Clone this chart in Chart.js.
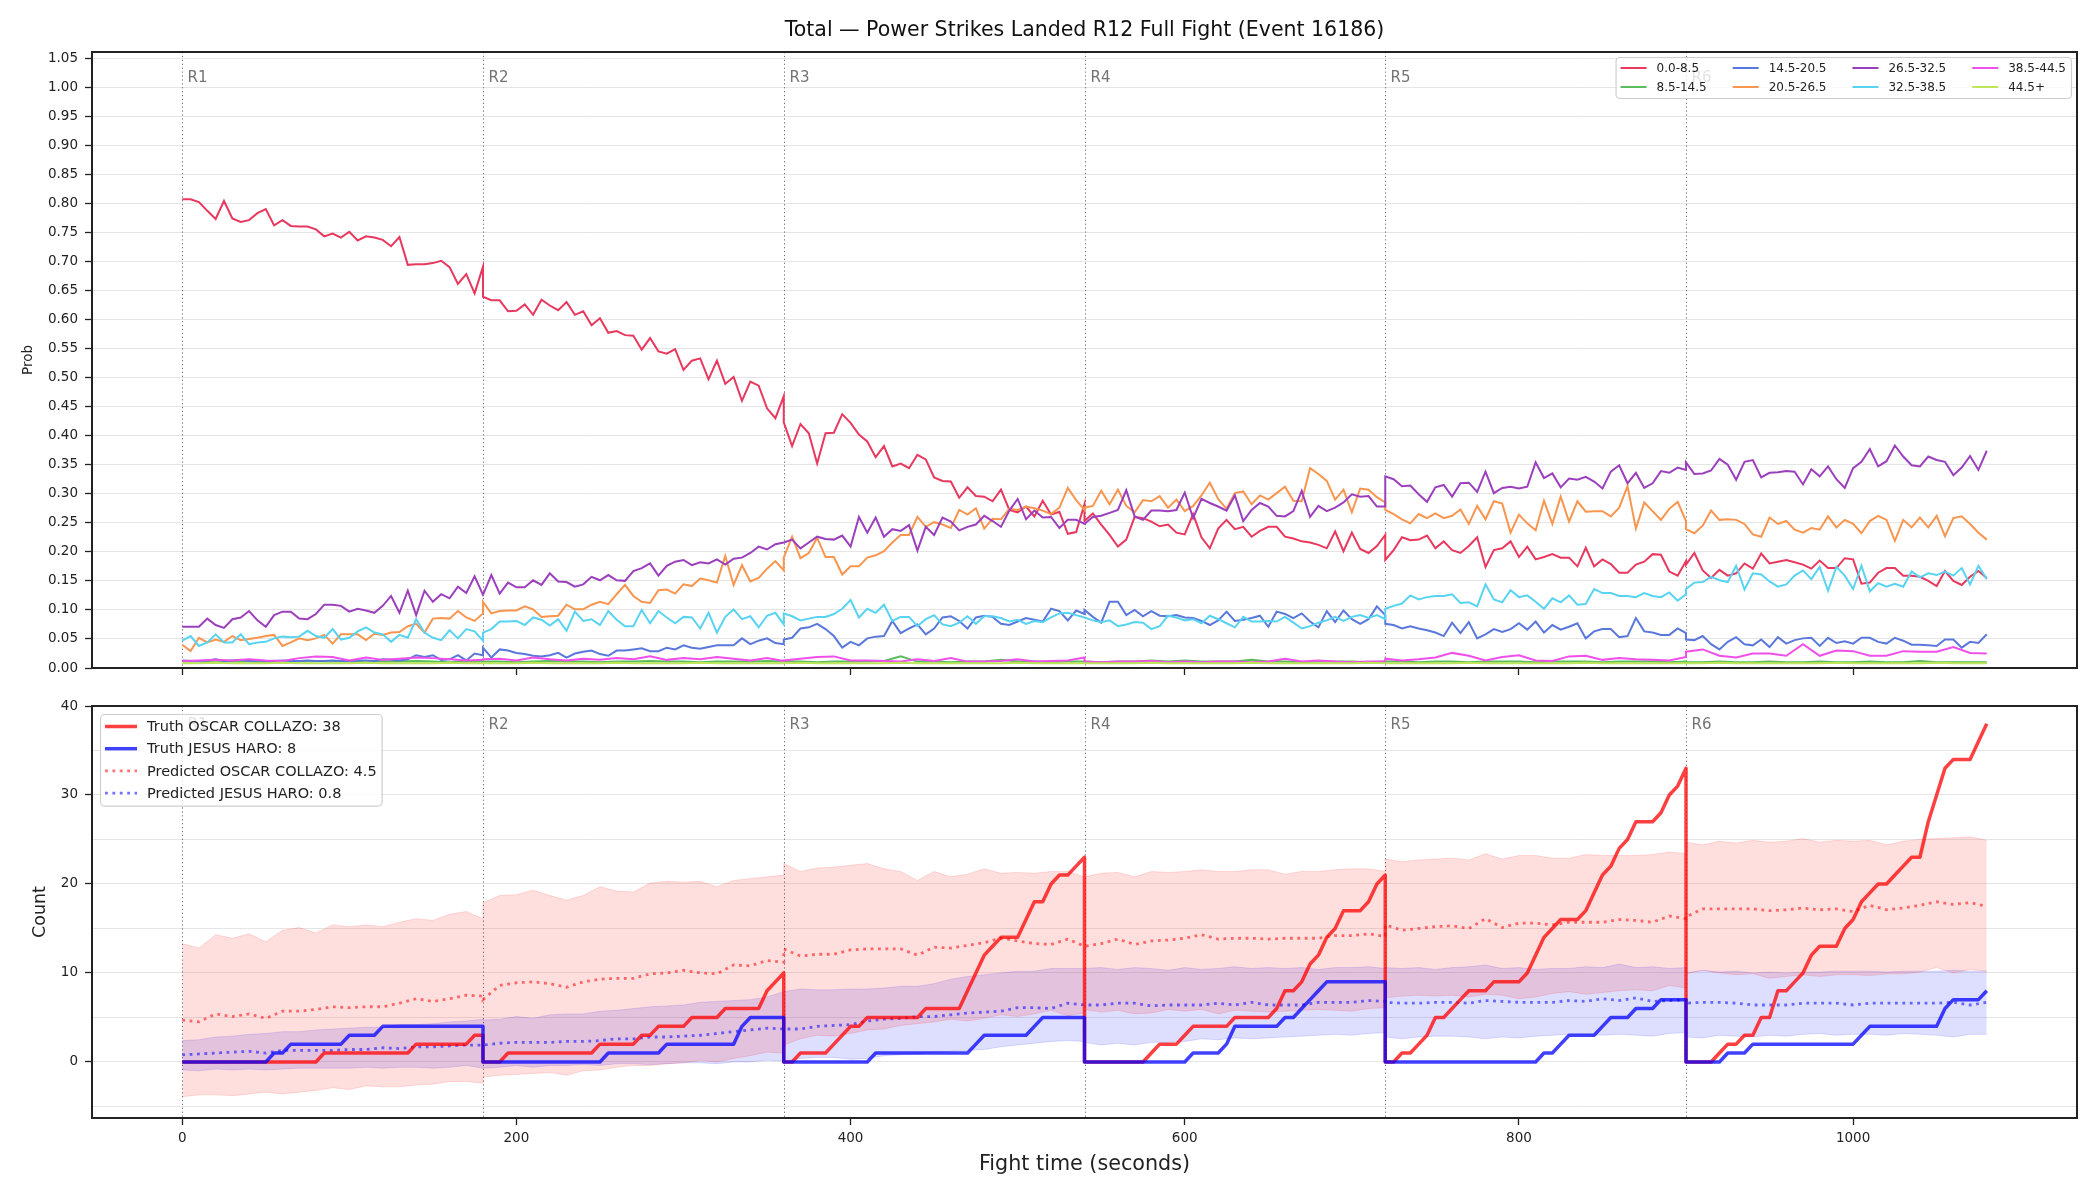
<!DOCTYPE html>
<html>
<head>
<meta charset="utf-8">
<script src="https://cdn.jsdelivr.net/npm/chart.js@4.4.0/dist/chart.umd.min.js"></script>
<style>
  html, body { margin: 0; padding: 0; background: #fff; }
  #wrap { position: relative; width: 2100px; height: 1200px; background: #fff; }
  #probChart { position: absolute; left: 0; top: 0; }
  #countChart { position: absolute; left: 0; top: 690px; }
</style>
</head>
<body>
<div id="wrap">
  <canvas id="probChart" width="2100" height="690"></canvas>
  <canvas id="countChart" width="2100" height="510"></canvas>
</div>
<script>
// rounds: each inner array is one round, sampled every FINE_STEP or COARSE_STEP seconds
const ROUND_STARTS = [0, 180, 360, 540, 720, 900];
const ROUND_LABELS = ['R1', 'R2', 'R3', 'R4', 'R5', 'R6'];
const FINE_STEP = 5;
const COARSE_STEP = 10;

const X_TICKS = [0, 200, 400, 600, 800, 1000];
const PROB_TICKS = [0, 0.05, 0.1, 0.15, 0.2, 0.25, 0.3, 0.35, 0.4, 0.45, 0.5, 0.55, 0.6, 0.65, 0.7, 0.75, 0.8, 0.85, 0.9, 0.95, 1.0, 1.05];
const COUNT_TICKS = [-5, 0, 5, 10, 15, 20, 25, 30, 35, 40];

const BIN_LABELS = ['0.0-8.5', '8.5-14.5', '14.5-20.5', '20.5-26.5', '26.5-32.5', '32.5-38.5', '38.5-44.5', '44.5+'];
const BIN_COLORS = ['#e8385e', '#5cbd5c', '#5a78dc', '#f8954f', '#9c3fbd', '#58d3f1', '#f04fe9', '#bde65a'];

const prob_0_8 = [
  [0.807,0.807,0.802,0.787,0.773,0.804,0.774,0.768,0.771,0.783,0.790,0.762,0.771,0.761,0.760,0.760,0.755,0.743,0.748,0.741,0.751,0.736,0.743,0.741,0.737,0.726,0.742,0.694,0.695,0.695,0.697,0.701,0.690,0.661,0.678,0.645,0.691],
  [0.639,0.633,0.633,0.614,0.615,0.626,0.608,0.634,0.624,0.616,0.630,0.608,0.614,0.590,0.602,0.577,0.580,0.573,0.572,0.548,0.568,0.545,0.541,0.549,0.513,0.529,0.533,0.497,0.529,0.489,0.501,0.460,0.493,0.486,0.447,0.430,0.468],
  [0.423,0.382,0.420,0.404,0.352,0.404,0.405,0.437,0.422,0.402,0.390,0.363,0.382,0.347,0.352,0.344,0.367,0.359,0.328,0.322,0.321,0.293,0.311,0.296,0.295,0.287,0.307,0.272,0.268,0.278,0.261,0.288,0.264,0.269,0.231,0.234,0.282],
  [0.253,0.266,0.247,0.229,0.209,0.221,0.260,0.258,0.252,0.244,0.247,0.233,0.230,0.265,0.225,0.206,0.240,0.255,0.239,0.243,0.226,0.236,0.243,0.243,0.226,0.223,0.218,0.216,0.212,0.206,0.235,0.201,0.233,0.205,0.198,0.210,0.229],
  [0.186,0.203,0.225,0.220,0.221,0.228,0.206,0.218,0.203,0.198,0.210,0.225,0.174,0.203,0.206,0.218,0.191,0.209,0.187,0.191,0.196,0.190,0.190,0.175,0.207,0.175,0.187,0.179,0.164,0.164,0.178,0.183,0.196,0.195,0.166,0.159,0.184],
  [0.178,0.198,0.168,0.155,0.169,0.159,0.163,0.180,0.171,0.197,0.180,0.183,0.186,0.182,0.178,0.171,0.185,0.172,0.172,0.189,0.187,0.145,0.147,0.164,0.172,0.172,0.159,0.159,0.157,0.150,0.141,0.167,0.150,0.143,0.157,0.167,0.155]
];
const prob_8_14 = [
  [0.011,0.011,0.010,0.011,0.011,0.010,0.011,0.011,0.012,0.011,0.011,0.010,0.011,0.011,0.012,0.011,0.010,0.011,0.011],
  [0.011,0.011,0.010,0.011,0.012,0.011,0.011,0.010,0.011,0.011,0.012,0.011,0.011,0.010,0.011,0.011,0.011,0.012,0.011],
  [0.011,0.011,0.010,0.011,0.011,0.011,0.012,0.020,0.011,0.011,0.010,0.011,0.011,0.014,0.011,0.011,0.010,0.011,0.011],
  [0.011,0.010,0.011,0.011,0.013,0.011,0.013,0.011,0.011,0.011,0.014,0.011,0.011,0.010,0.011,0.011,0.011,0.010,0.011],
  [0.011,0.011,0.010,0.011,0.011,0.010,0.011,0.011,0.011,0.010,0.011,0.011,0.011,0.010,0.011,0.011,0.011,0.010,0.011],
  [0.010,0.010,0.011,0.010,0.010,0.011,0.010,0.010,0.011,0.010,0.010,0.011,0.010,0.010,0.012,0.010,0.010,0.010,0.010]
];
const prob_14_20 = [
  [0.013,0.012,0.012,0.013,0.015,0.012,0.013,0.014,0.012,0.013,0.012,0.012,0.013,0.012,0.012,0.013,0.012,0.012,0.013,0.012,0.012,0.013,0.013,0.012,0.015,0.014,0.013,0.015,0.022,0.019,0.022,0.014,0.015,0.022,0.013,0.025,0.022],
  [0.035,0.018,0.032,0.030,0.026,0.024,0.021,0.020,0.022,0.026,0.018,0.025,0.028,0.030,0.024,0.021,0.030,0.030,0.032,0.034,0.029,0.029,0.035,0.032,0.039,0.035,0.033,0.036,0.039,0.039,0.039,0.051,0.041,0.047,0.051,0.043,0.041],
  [0.049,0.052,0.068,0.070,0.076,0.067,0.055,0.035,0.045,0.039,0.051,0.054,0.055,0.081,0.060,0.068,0.075,0.058,0.068,0.087,0.089,0.081,0.068,0.087,0.090,0.088,0.076,0.074,0.080,0.086,0.083,0.080,0.102,0.098,0.082,0.099,0.093],
  [0.100,0.088,0.078,0.114,0.114,0.091,0.100,0.089,0.098,0.090,0.089,0.091,0.087,0.086,0.081,0.074,0.082,0.097,0.081,0.083,0.086,0.090,0.071,0.097,0.093,0.086,0.094,0.080,0.070,0.098,0.079,0.099,0.084,0.076,0.084,0.106,0.091],
  [0.076,0.074,0.068,0.072,0.068,0.065,0.061,0.055,0.078,0.060,0.079,0.051,0.058,0.067,0.062,0.067,0.077,0.066,0.080,0.061,0.074,0.066,0.071,0.077,0.051,0.063,0.067,0.067,0.053,0.055,0.086,0.063,0.061,0.057,0.057,0.068,0.060],
  [0.049,0.048,0.055,0.041,0.032,0.045,0.053,0.041,0.039,0.049,0.036,0.053,0.042,0.048,0.051,0.052,0.038,0.052,0.043,0.046,0.042,0.052,0.052,0.045,0.042,0.052,0.047,0.040,0.040,0.039,0.038,0.049,0.049,0.035,0.045,0.043,0.058]
];
const prob_20_26 = [
  [0.040,0.029,0.052,0.044,0.049,0.045,0.055,0.048,0.050,0.052,0.055,0.057,0.038,0.044,0.051,0.048,0.051,0.057,0.042,0.058,0.058,0.058,0.048,0.059,0.057,0.061,0.062,0.072,0.076,0.061,0.085,0.086,0.085,0.098,0.087,0.081,0.094],
  [0.114,0.094,0.098,0.099,0.099,0.106,0.101,0.088,0.089,0.090,0.109,0.101,0.101,0.109,0.114,0.110,0.127,0.143,0.124,0.114,0.112,0.134,0.135,0.128,0.144,0.141,0.154,0.151,0.147,0.193,0.143,0.177,0.149,0.155,0.171,0.184,0.168],
  [0.190,0.226,0.189,0.198,0.224,0.191,0.191,0.161,0.175,0.175,0.190,0.194,0.201,0.216,0.229,0.229,0.260,0.243,0.251,0.247,0.241,0.272,0.264,0.275,0.240,0.257,0.256,0.274,0.272,0.278,0.275,0.271,0.265,0.276,0.310,0.289,0.272],
  [0.276,0.279,0.305,0.282,0.307,0.279,0.268,0.289,0.287,0.296,0.276,0.290,0.270,0.279,0.297,0.319,0.291,0.274,0.301,0.304,0.282,0.297,0.290,0.301,0.312,0.288,0.287,0.344,0.334,0.322,0.290,0.307,0.268,0.309,0.307,0.294,0.285],
  [0.272,0.265,0.256,0.249,0.265,0.258,0.266,0.258,0.262,0.273,0.248,0.279,0.256,0.287,0.283,0.233,0.264,0.249,0.237,0.288,0.248,0.295,0.252,0.287,0.269,0.270,0.270,0.261,0.276,0.313,0.240,0.285,0.270,0.255,0.274,0.286,0.253],
  [0.239,0.232,0.245,0.271,0.255,0.256,0.255,0.248,0.230,0.226,0.259,0.248,0.253,0.238,0.233,0.241,0.238,0.261,0.242,0.255,0.248,0.232,0.253,0.262,0.255,0.219,0.255,0.242,0.259,0.242,0.262,0.227,0.258,0.261,0.248,0.233,0.221]
];
const prob_26_32 = [
  [0.071,0.071,0.071,0.085,0.074,0.069,0.084,0.087,0.098,0.082,0.071,0.091,0.097,0.097,0.085,0.084,0.093,0.109,0.109,0.107,0.097,0.102,0.099,0.095,0.107,0.124,0.095,0.133,0.091,0.133,0.114,0.127,0.120,0.140,0.129,0.158,0.126],
  [0.126,0.160,0.128,0.147,0.139,0.139,0.151,0.143,0.163,0.149,0.148,0.140,0.144,0.157,0.151,0.160,0.151,0.150,0.167,0.172,0.180,0.159,0.176,0.183,0.186,0.177,0.182,0.180,0.187,0.178,0.188,0.190,0.198,0.209,0.204,0.213,0.216],
  [0.216,0.221,0.206,0.216,0.226,0.222,0.221,0.228,0.209,0.260,0.233,0.259,0.226,0.239,0.236,0.246,0.202,0.243,0.229,0.259,0.252,0.237,0.243,0.247,0.262,0.253,0.243,0.271,0.291,0.256,0.271,0.259,0.260,0.241,0.255,0.255,0.248],
  [0.248,0.260,0.262,0.267,0.272,0.306,0.261,0.255,0.271,0.271,0.270,0.272,0.302,0.258,0.291,0.284,0.278,0.271,0.297,0.253,0.272,0.284,0.278,0.262,0.261,0.270,0.305,0.260,0.279,0.270,0.276,0.285,0.299,0.295,0.296,0.278,0.278],
  [0.330,0.325,0.313,0.314,0.299,0.286,0.311,0.315,0.295,0.318,0.319,0.303,0.338,0.301,0.310,0.312,0.309,0.312,0.354,0.327,0.335,0.311,0.326,0.324,0.329,0.321,0.309,0.338,0.349,0.318,0.336,0.310,0.318,0.339,0.336,0.345,0.341],
  [0.354,0.334,0.335,0.340,0.360,0.350,0.324,0.355,0.358,0.328,0.336,0.337,0.339,0.338,0.316,0.342,0.330,0.347,0.325,0.310,0.344,0.355,0.377,0.347,0.356,0.383,0.364,0.349,0.347,0.364,0.358,0.355,0.332,0.345,0.365,0.341,0.374]
];
const prob_32_38 = [
  [0.047,0.055,0.038,0.044,0.058,0.044,0.044,0.058,0.041,0.044,0.045,0.051,0.054,0.053,0.054,0.064,0.055,0.052,0.067,0.049,0.052,0.063,0.070,0.061,0.058,0.045,0.057,0.052,0.084,0.061,0.052,0.048,0.065,0.051,0.067,0.063,0.047],
  [0.061,0.067,0.080,0.080,0.081,0.074,0.087,0.083,0.073,0.084,0.064,0.097,0.081,0.084,0.074,0.098,0.083,0.072,0.072,0.100,0.077,0.098,0.087,0.077,0.088,0.087,0.068,0.095,0.061,0.088,0.101,0.084,0.089,0.070,0.090,0.095,0.075],
  [0.094,0.089,0.082,0.085,0.088,0.088,0.093,0.102,0.117,0.087,0.102,0.095,0.109,0.081,0.088,0.088,0.072,0.084,0.091,0.075,0.072,0.078,0.089,0.076,0.089,0.089,0.086,0.080,0.083,0.076,0.081,0.079,0.087,0.094,0.095,0.091,0.087],
  [0.087,0.082,0.079,0.082,0.072,0.075,0.079,0.078,0.067,0.072,0.090,0.087,0.082,0.084,0.077,0.090,0.084,0.077,0.070,0.088,0.080,0.080,0.081,0.080,0.088,0.078,0.068,0.072,0.078,0.082,0.088,0.081,0.088,0.091,0.086,0.091,0.084],
  [0.102,0.107,0.111,0.125,0.118,0.122,0.124,0.124,0.127,0.112,0.113,0.106,0.144,0.118,0.113,0.134,0.122,0.125,0.114,0.102,0.120,0.113,0.125,0.109,0.110,0.136,0.129,0.129,0.124,0.124,0.122,0.129,0.124,0.122,0.130,0.116,0.127],
  [0.136,0.147,0.148,0.157,0.151,0.148,0.176,0.135,0.163,0.161,0.149,0.140,0.144,0.159,0.168,0.153,0.174,0.133,0.174,0.159,0.136,0.176,0.132,0.146,0.140,0.145,0.140,0.166,0.156,0.163,0.160,0.166,0.159,0.172,0.144,0.176,0.153]
];
const prob_38_44 = [
  [0.012,0.013,0.014,0.013,0.015,0.013,0.012,0.017,0.020,0.019,0.013,0.018,0.014,0.016,0.018,0.017,0.015,0.013,0.014],
  [0.015,0.016,0.013,0.018,0.015,0.013,0.016,0.014,0.017,0.015,0.020,0.014,0.017,0.015,0.019,0.016,0.013,0.017,0.012],
  [0.013,0.016,0.019,0.020,0.013,0.013,0.012,0.011,0.015,0.012,0.017,0.011,0.011,0.012,0.015,0.011,0.012,0.013,0.018],
  [0.011,0.010,0.011,0.011,0.012,0.010,0.011,0.010,0.011,0.011,0.010,0.011,0.016,0.011,0.013,0.011,0.010,0.011,0.011],
  [0.016,0.013,0.015,0.018,0.026,0.021,0.013,0.019,0.022,0.013,0.012,0.020,0.021,0.014,0.017,0.015,0.014,0.013,0.019],
  [0.028,0.032,0.021,0.018,0.025,0.025,0.021,0.041,0.021,0.030,0.029,0.021,0.021,0.029,0.028,0.028,0.036,0.026,0.025]
];
const prob_44_plus = [
  [0.008,0.008,0.009,0.008,0.008,0.008,0.009,0.008,0.008,0.008,0.008,0.009,0.008,0.008,0.008,0.008,0.009,0.008,0.008],
  [0.008,0.008,0.008,0.009,0.008,0.008,0.008,0.008,0.009,0.008,0.008,0.008,0.008,0.009,0.008,0.008,0.008,0.008,0.008],
  [0.008,0.009,0.008,0.008,0.008,0.008,0.008,0.009,0.008,0.008,0.008,0.008,0.008,0.008,0.009,0.008,0.008,0.008,0.008],
  [0.008,0.008,0.008,0.008,0.009,0.008,0.008,0.008,0.008,0.008,0.009,0.008,0.008,0.008,0.008,0.008,0.008,0.009,0.008],
  [0.008,0.008,0.008,0.008,0.008,0.009,0.008,0.008,0.008,0.008,0.008,0.008,0.009,0.008,0.008,0.008,0.008,0.008,0.008],
  [0.008,0.008,0.009,0.008,0.008,0.008,0.008,0.008,0.008,0.009,0.008,0.008,0.008,0.008,0.008,0.009,0.008,0.008,0.008]
];
const PROB_SERIES = [prob_0_8, prob_8_14, prob_14_20, prob_20_26, prob_26_32, prob_32_38, prob_38_44, prob_44_plus];
const PROB_STEPS = [FINE_STEP, COARSE_STEP, FINE_STEP, FINE_STEP, FINE_STEP, FINE_STEP, COARSE_STEP, COARSE_STEP];

// cumulative strikes within the round (5 s samples)
const truth_collazo = [
  [0,0,0,0,0,0,0,0,0,0,0,0,0,0,0,0,0,1,1,1,1,1,1,1,1,1,1,1,2,2,2,2,2,2,2,3,3],
  [0,0,0,1,1,1,1,1,1,1,1,1,1,1,2,2,2,2,2,3,3,4,4,4,4,5,5,5,5,6,6,6,6,6,8,9,10],
  [0,0,1,1,1,1,2,3,4,4,5,5,5,5,5,5,5,6,6,6,6,6,8,10,12,13,14,14,14,16,18,18,20,21,21,22,23],
  [0,0,0,0,0,0,0,0,1,2,2,2,3,4,4,4,4,4,5,5,5,5,5,6,8,8,9,11,12,14,15,17,17,17,18,20,21],
  [0,0,1,1,2,3,5,5,6,7,8,8,8,9,9,9,9,10,12,14,15,16,16,16,17,19,21,22,24,25,27,27,27,28,30,31,33],
  [0,0,0,0,1,2,2,3,3,5,5,8,8,9,10,12,13,13,13,15,16,18,19,20,20,21,22,23,23,27,30,33,34,34,34,36,38]
];
const truth_haro = [
  [0,0,0,0,0,0,0,0,0,0,0,1,1,2,2,2,2,2,2,2,3,3,3,3,4,4,4,4,4,4,4,4,4,4,4,4,4],
  [0,0,0,0,0,0,0,0,0,0,0,0,0,0,0,1,1,1,1,1,1,1,2,2,2,2,2,2,2,2,2,4,5,5,5,5,5],
  [0,0,0,0,0,0,0,0,0,0,0,1,1,1,1,1,1,1,1,1,1,1,1,2,3,3,3,3,3,3,4,5,5,5,5,5,5],
  [0,0,0,0,0,0,0,0,0,0,0,0,0,1,1,1,1,2,4,4,4,4,4,4,5,5,6,7,8,9,9,9,9,9,9,9,9],
  [0,0,0,0,0,0,0,0,0,0,0,0,0,0,0,0,0,0,0,1,1,2,3,3,3,3,4,5,5,5,6,6,6,7,7,7,7],
  [0,0,0,0,0,1,1,1,2,2,2,2,2,2,2,2,2,2,2,2,2,3,4,4,4,4,4,4,4,4,4,6,7,7,7,7,8]
];
// model mean and band (10 s samples)
const pred_collazo = [
  [4.7,4.5,5.4,5.1,5.4,4.9,5.7,5.7,5.9,6.2,6.1,6.2,6.2,6.6,7.1,6.8,7.1,7.5,7.4],
  [7.0,8.6,8.9,9.0,8.8,8.4,9.0,9.3,9.4,9.4,9.9,10.0,10.3,10.0,9.9,10.9,10.8,11.4,11.2],
  [12.7,11.9,12.1,12.1,12.6,12.7,12.7,12.7,12.0,12.9,12.8,13.1,13.4,13.9,13.6,13.3,13.2,13.8,13.0],
  [13.0,13.3,13.8,13.2,13.6,13.7,13.9,14.3,13.8,13.9,13.9,13.8,13.9,13.9,13.9,14.2,14.2,14.4,14.1],
  [15.4,14.8,15.0,15.2,15.3,15.0,16.1,15.1,15.6,15.6,15.4,15.7,15.7,15.7,16.0,15.9,15.7,16.4,16.1],
  [16.3,17.2,17.2,17.2,17.2,17.0,17.1,17.3,17.1,17.2,16.9,17.6,17.1,17.3,17.6,18.0,17.7,17.9,17.5]
];
const pred_haro = [
  [0.8,0.9,1.0,1.1,1.2,1.0,1.3,1.3,1.3,1.3,1.4,1.4,1.6,1.5,1.7,1.7,1.8,1.9,1.9],
  [1.9,2.1,2.2,2.2,2.2,2.3,2.3,2.4,2.6,2.6,2.8,2.8,2.9,3.0,3.2,3.4,3.6,3.8,3.7],
  [3.7,3.7,4.0,4.1,4.2,4.6,4.8,4.9,5.1,5.1,5.3,5.5,5.6,5.7,6.1,6.1,6.0,6.6,6.4],
  [6.4,6.4,6.6,6.6,6.3,6.4,6.4,6.4,6.6,6.4,6.7,6.4,6.4,6.4,6.7,6.7,6.7,6.9,6.8],
  [6.7,6.6,6.6,6.7,6.7,6.6,6.9,6.8,6.7,6.7,6.7,6.9,6.8,7.1,6.9,7.2,6.8,6.9,7.0],
  [6.6,6.7,6.7,6.6,6.4,6.4,6.4,6.6,6.6,6.6,6.4,6.6,6.6,6.6,6.6,6.6,6.7,6.4,6.7]
];
const collazo_hi = [
  [13.3,12.8,14.3,13.9,14.4,13.5,14.8,15.1,14.5,15.4,15.2,15.4,15.2,15.7,16.1,15.9,16.6,16.9,16.1],
  [17.9,18.7,18.8,19.3,18.7,18.2,18.7,19.7,19.2,19.1,20.1,20.3,20.2,20.3,19.7,20.4,20.6,20.8,21.0],
  [22.3,21.4,21.8,21.9,22.1,22.3,21.7,21.4,20.4,21.4,20.8,21.1,21.7,21.2,21.3,21.2,21.4,21.4,20.8],
  [20.8,21.2,21.3,20.8,21.4,21.3,21.4,21.6,21.4,21.4,21.6,21.6,21.1,21.4,21.4,21.6,21.7,21.7,21.4],
  [22.8,22.5,22.7,22.8,22.9,22.7,23.4,22.8,23.2,23.2,22.9,22.9,23.3,23.2,23.2,23.2,23.3,23.6,23.4],
  [24.7,24.4,24.8,24.6,24.9,24.7,24.8,25.1,24.7,24.9,24.8,24.9,24.4,24.8,25.0,25.1,25.2,25.3,24.9]
];
const collazo_lo = [
  [-3.9,-3.7,-3.7,-3.8,-3.6,-3.4,-3.6,-3.4,-3.2,-2.9,-3.1,-2.7,-2.8,-2.8,-2.6,-2.5,-2.2,-2.2,-2.4],
  [-1.7,-1.5,-1.4,-1.3,-1.2,-1.5,-1.0,-0.9,-0.6,-0.4,-0.4,-0.2,-0.1,0.2,0.0,0.4,0.7,1.1,1.0],
  [1.9,2.6,3.0,2.9,3.2,3.6,3.7,4.1,4.3,4.5,4.8,4.6,4.9,5.3,5.1,5.4,5.8,5.2,5.5],
  [5.9,5.6,5.8,5.4,5.5,5.9,5.7,5.9,5.4,5.8,5.7,5.6,5.7,5.8,5.9,5.8,5.7,6.0,6.1],
  [7.2,7.4,7.5,7.4,7.5,7.3,7.6,7.5,7.1,7.3,7.7,7.9,7.6,7.8,8.0,8.1,8.0,8.6,8.3],
  [9.9,10.3,10.0,9.8,9.9,9.4,9.6,9.8,9.6,9.8,9.8,9.7,9.9,9.9,10.1,10.6,10.0,10.4,10.2]
];
const haro_hi = [
  [2.4,2.5,2.8,2.9,3.1,3.2,3.4,3.4,3.6,3.7,3.8,3.9,3.9,4.2,4.2,4.3,4.5,4.6,4.8],
  [4.7,4.8,5.1,4.9,5.3,5.4,5.4,5.7,5.8,6.0,6.2,6.3,6.4,6.7,6.8,6.9,7.0,7.3,7.9],
  [7.9,8.2,8.1,8.1,8.2,8.2,8.3,8.5,8.5,8.8,9.3,9.6,9.8,10.0,10.2,10.2,10.5,10.5,10.5],
  [10.5,10.6,10.4,10.6,10.5,10.3,10.6,10.4,10.5,10.7,10.5,10.6,10.5,10.6,10.4,10.6,10.6,10.7,10.5],
  [10.6,10.5,10.6,10.4,10.6,10.7,10.9,10.5,10.6,10.4,10.5,10.5,10.7,10.6,11.0,10.6,10.7,10.5,10.6],
  [10.0,10.3,10.1,10.2,10.0,10.1,10.0,10.1,10.1,10.2,10.2,10.2,10.1,10.2,10.2,10.2,10.3,10.2,10.2]
];
const haro_lo = [
  [-0.9,-1.0,-0.8,-0.9,-0.8,-0.9,-0.8,-0.7,-0.7,-0.7,-0.7,-0.6,-0.7,-0.6,-0.6,-0.7,-0.6,-0.4,-0.7],
  [-0.7,-0.6,-0.4,-0.6,-0.4,-0.4,-0.3,-0.4,-0.2,-0.2,-0.3,-0.2,-0.1,-0.1,-0.2,0.0,0.0,0.2,0.1],
  [0.1,0.4,0.5,0.5,0.3,0.4,0.7,0.8,0.9,1.1,1.2,1.3,1.4,1.7,1.9,2.1,2.3,2.4,2.3],
  [2.2,1.9,2.1,1.9,2.2,2.2,2.3,2.6,2.5,2.7,2.6,2.7,2.8,2.9,3.0,3.1,3.0,3.2,3.3],
  [2.8,2.6,2.8,2.9,2.9,2.8,2.6,2.8,2.7,2.9,3.0,3.1,3.1,3.0,3.1,3.0,2.9,3.2,3.3],
  [2.8,2.7,3.0,2.9,2.8,3.0,2.9,3.1,3.2,3.0,3.1,3.1,3.0,3.2,3.1,3.0,2.8,3.1,3.1]
];
const COUNT_LABELS = ['Truth OSCAR COLLAZO: 38', 'Truth JESUS HARO: 8', 'Predicted OSCAR COLLAZO: 4.5', 'Predicted JESUS HARO: 0.8'];

const X_MIN = -54, X_MAX = 1134;
const FONT = 'DejaVu Sans';
Chart.defaults.font.family = FONT;
Chart.defaults.color = '#222';

function toPoints(rounds, step) {
  const pts = [];
  rounds.forEach((vals, r) => {
    vals.forEach((v, i) => pts.push({ x: ROUND_STARTS[r] + i * step, y: v }));
  });
  return pts;
}

function drawLegend(ctx, items, o) {
  ctx.save();
  ctx.font = o.fontSize + 'px "' + FONT + '"';
  const cols = Math.ceil(items.length / o.rows);
  const colW = [];
  for (let c = 0; c < cols; c++) {
    let w = 0;
    for (let r = 0; r < o.rows; r++) {
      const it = items[c * o.rows + r];
      if (it) w = Math.max(w, ctx.measureText(it.text).width);
    }
    colW.push(w);
  }
  let boxW = o.pad * 2 + o.colGap * (cols - 1);
  colW.forEach(w => { boxW += o.handle + o.gap + w; });
  const boxH = o.first * 2 + (o.rows - 1) * o.rowH;
  const left = o.alignRight ? o.x - boxW : o.x;
  const top = o.y;
  ctx.beginPath();
  ctx.roundRect(left + 0.5, top + 0.5, boxW, boxH, 4);
  ctx.fillStyle = 'rgba(255,255,255,0.8)';
  ctx.fill();
  ctx.strokeStyle = '#cfcfcf';
  ctx.lineWidth = 1.2;
  ctx.stroke();
  let cx = left + o.pad;
  for (let c = 0; c < cols; c++) {
    for (let r = 0; r < o.rows; r++) {
      const it = items[c * o.rows + r];
      if (!it) continue;
      const cy = top + o.first + r * o.rowH;
      ctx.beginPath();
      ctx.strokeStyle = it.color;
      ctx.lineWidth = it.width;
      ctx.setLineDash(it.dash || []);
      ctx.moveTo(cx, cy);
      ctx.lineTo(cx + o.handle, cy);
      ctx.stroke();
      ctx.setLineDash([]);
      ctx.fillStyle = '#222';
      ctx.textAlign = 'left';
      ctx.textBaseline = 'middle';
      ctx.fillText(it.text, cx + o.handle + o.gap, cy + 1);
    }
    cx += o.handle + o.gap + colW[c] + o.colGap;
  }
  ctx.restore();
}

// dotted round separators, round names, frame, title and legend
const fightDecor = {
  id: 'fightDecor',
  beforeDatasetsDraw(chart, args, opts) {
    const { ctx, chartArea: a, scales: { x } } = chart;
    ctx.save();
    ctx.strokeStyle = 'rgba(70,70,70,0.75)';
    ctx.lineWidth = 1;
    ctx.setLineDash([1.3, 2.6]);
    ctx.font = '15px "' + FONT + '"';
    ctx.fillStyle = 'rgba(90,90,90,0.85)';
    ctx.textBaseline = 'middle';
    ROUND_STARTS.forEach((t, i) => {
      const px = Math.round(x.getPixelForValue(t)) + 0.5;
      ctx.beginPath();
      ctx.moveTo(px, a.top);
      ctx.lineTo(px, a.bottom);
      ctx.stroke();
      ctx.fillText(ROUND_LABELS[i], px + 5, a.top + opts.labelOffset);
    });
    ctx.restore();
  },
  afterDraw(chart, args, opts) {
    const { ctx, chartArea: a } = chart;
    ctx.save();
    ctx.strokeStyle = '#222';
    ctx.lineWidth = 2;
    ctx.strokeRect(a.left, a.top, a.right - a.left, a.bottom - a.top);
    if (opts.title) {
      ctx.font = '20.5px "' + FONT + '"';
      ctx.fillStyle = '#111';
      ctx.textAlign = 'center';
      ctx.textBaseline = 'middle';
      ctx.fillText(opts.title, (a.left + a.right) / 2, 31);
    }
    ctx.restore();
    const items = chart.data.datasets.filter(d => d.inLegend).map(d => ({
      text: d.label, color: d.borderColor, width: d.borderWidth, dash: d.borderDash
    }));
    const L = opts.legend;
    drawLegend(ctx, items, Object.assign({}, L, {
      x: L.alignRight ? a.right - L.dx : a.left + L.dx,
      y: a.top + L.dy
    }));
  }
};

const probDatasets = BIN_LABELS.map((lab, i) => ({
  label: lab,
  inLegend: true,
  data: toPoints(PROB_SERIES[i], PROB_STEPS[i]),
  borderColor: BIN_COLORS[i],
  borderWidth: 2,
  pointRadius: 0,
  tension: 0,
  fill: false,
  order: -i
}));

new Chart(document.getElementById('probChart'), {
  type: 'line',
  data: { datasets: probDatasets },
  options: {
    responsive: false,
    animation: false,
    devicePixelRatio: 1,
    layout: { padding: { top: 52, right: 23, left: 0, bottom: 0 } },
    plugins: {
      legend: { display: false },
      tooltip: { enabled: false },
      fightDecor: {
        labelOffset: 26,
        title: 'Total \u2014 Power Strikes Landed R12 Full Fight (Event 16186)',
        legend: { alignRight: true, dx: 6, dy: 5, rows: 2, fontSize: 12, handle: 26, gap: 10, colGap: 26, pad: 5, first: 11, rowH: 19 }
      }
    },
    scales: {
      x: {
        type: 'linear', min: X_MIN, max: X_MAX,
        afterBuildTicks: s => { s.ticks = X_TICKS.map(v => ({ value: v })); },
        ticks: { display: false },
        grid: { drawOnChartArea: false, tickLength: 7, tickColor: '#222', tickWidth: 1.3 },
        border: { display: false },
        afterFit: s => { s.height = 22; }
      },
      y: {
        min: 0, max: 1.0604,
        afterBuildTicks: s => { s.ticks = PROB_TICKS.map(v => ({ value: v })); },
        ticks: { callback: v => Number(v).toFixed(2), padding: 7, font: { size: 13.5 }, color: '#222' },
        grid: { color: 'rgba(0,0,0,0.1)', lineWidth: 1, tickColor: '#222', tickLength: 7, tickWidth: 1.3 },
        border: { display: false },
        title: { display: true, text: 'Prob', font: { size: 13.5 }, color: '#222', padding: { top: 20, bottom: 0 } },
        afterFit: s => { s.width = 92; }
      }
    }
  },
  plugins: [fightDecor]
});

const countDatasets = [
  { label: COUNT_LABELS[0], inLegend: true, data: toPoints(truth_collazo, FINE_STEP),
    borderColor: 'rgba(255,0,0,0.75)', borderWidth: 3.5, borderJoinStyle: 'round', order: 1 },
  { label: COUNT_LABELS[1], inLegend: true, data: toPoints(truth_haro, FINE_STEP),
    borderColor: 'rgba(0,0,255,0.75)', borderWidth: 3.5, borderJoinStyle: 'round', order: 0 },
  { label: COUNT_LABELS[2], inLegend: true, data: toPoints(pred_collazo, COARSE_STEP),
    borderColor: 'rgba(255,0,0,0.55)', borderWidth: 2.8, borderDash: [2.8, 4.6], order: 3 },
  { label: COUNT_LABELS[3], inLegend: true, data: toPoints(pred_haro, COARSE_STEP),
    borderColor: 'rgba(0,0,255,0.55)', borderWidth: 2.8, borderDash: [2.8, 4.6], order: 2 },
  { label: 'haro_lo', data: toPoints(haro_lo, COARSE_STEP),
    borderColor: 'rgba(0,0,255,0.13)', borderWidth: 1, order: 7 },
  { label: 'haro_hi', data: toPoints(haro_hi, COARSE_STEP), fill: '-1',
    backgroundColor: 'rgba(0,0,255,0.13)', borderColor: 'rgba(0,0,255,0.13)', borderWidth: 1, order: 6 },
  { label: 'collazo_lo', data: toPoints(collazo_lo, COARSE_STEP),
    borderColor: 'rgba(255,0,0,0.13)', borderWidth: 1, order: 5 },
  { label: 'collazo_hi', data: toPoints(collazo_hi, COARSE_STEP), fill: '-1',
    backgroundColor: 'rgba(255,0,0,0.13)', borderColor: 'rgba(255,0,0,0.13)', borderWidth: 1, order: 4 }
];
countDatasets.forEach(d => { d.pointRadius = 0; d.tension = 0; if (!d.fill) d.fill = false; });

new Chart(document.getElementById('countChart'), {
  type: 'line',
  data: { datasets: countDatasets },
  options: {
    responsive: false,
    animation: false,
    devicePixelRatio: 1,
    layout: { padding: { top: 16, right: 23, left: 0, bottom: 0 } },
    plugins: {
      legend: { display: false },
      tooltip: { enabled: false },
      filler: { propagate: false },
      fightDecor: {
        labelOffset: 19,
        legend: { alignRight: false, dx: 8, dy: 8, rows: 4, fontSize: 14.5, handle: 32, gap: 10, colGap: 20, pad: 5, first: 12.5, rowH: 22.2 }
      }
    },
    scales: {
      x: {
        type: 'linear', min: X_MIN, max: X_MAX,
        afterBuildTicks: s => { s.ticks = X_TICKS.map(v => ({ value: v })); },
        ticks: { callback: v => String(v), padding: 5, font: { size: 13.5 }, color: '#222', maxRotation: 0 },
        grid: { drawOnChartArea: false, tickLength: 7, tickColor: '#222', tickWidth: 1.3 },
        border: { display: false },
        title: { display: true, text: 'Fight time (seconds)', font: { size: 20.7 }, color: '#222', padding: { top: 4, bottom: 23 } },
        afterFit: s => { s.height = 82; }
      },
      y: {
        min: -6.3, max: 40,
        afterBuildTicks: s => { s.ticks = COUNT_TICKS.map(v => ({ value: v })); },
        ticks: { callback: v => (v % 10 === 0 ? String(v) : ''), padding: 7, font: { size: 13.5 }, color: '#222' },
        grid: {
          color: 'rgba(0,0,0,0.1)', lineWidth: 1, tickLength: 7, tickWidth: 1.3,
          tickColor: c => (c.tick && c.tick.value % 10 === 0 ? '#222' : 'rgba(0,0,0,0)')
        },
        border: { display: false },
        title: { display: true, text: 'Count', font: { size: 17.5 }, color: '#222', padding: { top: 30, bottom: 0 } },
        afterFit: s => { s.width = 92; }
      }
    }
  },
  plugins: [fightDecor]
});
</script>
</body>
</html>
